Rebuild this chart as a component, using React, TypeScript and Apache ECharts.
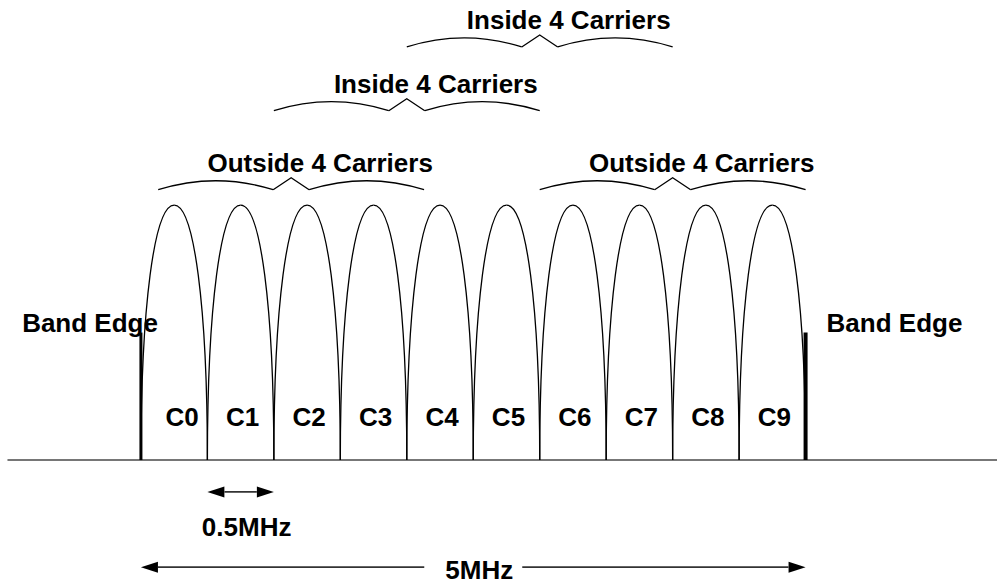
import React, { useEffect, useRef } from "react";
import * as echarts from "echarts";

// ---- Data (frequencies in MHz, levels relative to carrier peak = 1) ----
const carrierNames = ["C0", "C1", "C2", "C3", "C4", "C5", "C6", "C7", "C8", "C9"];
const carrierCenterMHz = [0.25, 0.75, 1.25, 1.75, 2.25, 2.75, 3.25, 3.75, 4.25, 4.75];
const carrierWidthMHz = 0.5;
const carrierPeak = 1;
const carrierLabelLevel = 0.17;

const bandEdgeMHz = [0, 5];
const bandEdgeLevel = 0.5;
const bandEdgeLabels = ["Band Edge", "Band Edge"];

const groupLabels = ["Outside 4 Carriers", "Inside 4 Carriers", "Inside 4 Carriers", "Outside 4 Carriers"];
const groupStartMHz = [0.13, 1.0, 2.0, 3.0];
const groupEndMHz = [2.13, 3.0, 4.0, 5.0];
const groupLevels = [1.06, 1.37, 1.62, 1.06];

const spanLabels = ["0.5MHz", "5MHz"];
const spanStartMHz = [0.5, 0];
const spanEndMHz = [1.0, 5];
const spanLevels = [-0.125, -0.42];

const FONT = "'Liberation Sans', Arial, sans-serif";
const textStyle = (text: string, align: string) => ({
  text,
  fill: "#000",
  fontSize: 26,
  fontWeight: "bold",
  fontFamily: FONT,
  align,
  verticalAlign: "middle",
  lineHeight: 22,
});

export default function App() {
  const ref = useRef<HTMLDivElement>(null);
  useEffect(() => {
    if (!ref.current) return;
    const chart = echarts.init(ref.current, null, { renderer: "svg" });
    const option: any = {
      animation: false,
      backgroundColor: "#fff",
      grid: { left: 8, right: 0, top: 0, bottom: 0, containLabel: false },
      xAxis: {
        type: "value",
        min: -1,
        max: 6.44,
        axisLine: { show: true, onZero: true, lineStyle: { color: "#4a4a4a", width: 1.5 } },
        axisTick: { show: false },
        axisLabel: { show: false },
        splitLine: { show: false },
      },
      yAxis: {
        type: "value",
        min: -0.49,
        max: 1.804,
        show: false,
        splitLine: { show: false },
      },
      series: [
        {
          type: "custom",
          name: "carriers",
          silent: true,
          encode: { x: 0, y: 1 },
          data: carrierCenterMHz.map((c) => [c, carrierPeak]),
          renderItem: (params: any, api: any) => {
            const c = api.value(0);
            const pk = api.value(1);
            const L = api.coord([c - carrierWidthMHz / 2, 0]);
            const T = api.coord([c, pk]);
            const R = api.coord([c + carrierWidthMHz / 2, 0]);
            const lab = api.coord([c, carrierLabelLevel]);
            const k = 0.6;
            const ls = { stroke: "#000", lineWidth: 1.3, fill: "none" };
            return {
              type: "group",
              children: [
                {
                  type: "bezierCurve",
                  shape: {
                    x1: L[0], y1: L[1],
                    cpx1: L[0], cpy1: L[1] - k * (L[1] - T[1]),
                    cpx2: T[0] - k * (T[0] - L[0]), cpy2: T[1],
                    x2: T[0], y2: T[1],
                  },
                  style: ls,
                },
                {
                  type: "bezierCurve",
                  shape: {
                    x1: T[0], y1: T[1],
                    cpx1: T[0] + k * (R[0] - T[0]), cpy1: T[1],
                    cpx2: R[0], cpy2: R[1] - k * (R[1] - T[1]),
                    x2: R[0], y2: R[1],
                  },
                  style: ls,
                },
                {
                  type: "text",
                  x: lab[0] + (params.dataIndex === 0 ? 8 : 2),
                  y: lab[1],
                  style: textStyle(carrierNames[params.dataIndex], "center"),
                },
              ],
            };
          },
        },
        {
          type: "custom",
          name: "bandEdges",
          silent: true,
          encode: { x: 0, y: 1 },
          data: bandEdgeMHz.map((f) => [f, bandEdgeLevel]),
          renderItem: (params: any, api: any) => {
            const f = api.value(0);
            const lv = api.value(1);
            const B = api.coord([f, 0]);
            const Tp = api.coord([f, lv]);
            const isLeft = params.dataIndex === 0;
            return {
              type: "group",
              children: [
                {
                  type: "line",
                  shape: { x1: B[0], y1: B[1], x2: Tp[0], y2: Tp[1] },
                  style: { stroke: "#000", lineWidth: isLeft ? 3 : 4 },
                },
                {
                  type: "text",
                  x: isLeft ? B[0] + 17 : B[0] + 21,
                  y: Tp[1] - 10,
                  style: textStyle(bandEdgeLabels[params.dataIndex], isLeft ? "right" : "left"),
                },
              ],
            };
          },
        },
        {
          type: "custom",
          name: "groups",
          silent: true,
          encode: { x: [0, 1], y: 2 },
          data: groupLabels.map((_, i) => [groupStartMHz[i], groupEndMHz[i], groupLevels[i]]),
          renderItem: (params: any, api: any) => {
            const s = api.coord([api.value(0), api.value(2)]);
            const e = api.coord([api.value(1), api.value(2)]);
            const y = s[1];
            const mid = (s[0] + e[0]) / 2;
            const th = 18;
            const tipRise = 12;
            const arcRise = 9;
            const ls = { stroke: "#000", lineWidth: 1.3, fill: "none" };
            return {
              type: "group",
              children: [
                {
                  type: "bezierCurve",
                  shape: {
                    x1: s[0], y1: y,
                    cpx1: (s[0] + mid - th) / 2, cpy1: y - 2 * arcRise,
                    x2: mid - th, y2: y,
                  },
                  style: ls,
                },
                {
                  type: "polyline",
                  shape: { points: [[mid - th, y], [mid, y - tipRise], [mid + th, y]] },
                  style: ls,
                },
                {
                  type: "bezierCurve",
                  shape: {
                    x1: mid + th, y1: y,
                    cpx1: (mid + th + e[0]) / 2, cpy1: y - 2 * arcRise,
                    x2: e[0], y2: y,
                  },
                  style: ls,
                },
                {
                  type: "text",
                  x: mid + 29,
                  y: y - 27,
                  style: textStyle(groupLabels[params.dataIndex], "center"),
                },
              ],
            };
          },
        },
        {
          type: "custom",
          name: "spans",
          silent: true,
          encode: { x: [0, 1], y: 2 },
          data: spanLabels.map((_, i) => [spanStartMHz[i], spanEndMHz[i], spanLevels[i]]),
          renderItem: (params: any, api: any) => {
            const a = api.coord([api.value(0), api.value(2)]);
            const b = api.coord([api.value(1), api.value(2)]);
            const y = a[1];
            const hl = 17;
            const hh = 5.5;
            const mid = (a[0] + b[0]) / 2;
            const inline = params.dataIndex === 1;
            const shaft = { stroke: "#333", lineWidth: 1.6 };
            const children: any[] = [
              {
                type: "polygon",
                shape: { points: [[a[0], y], [a[0] + hl, y - hh], [a[0] + hl, y + hh]] },
                style: { fill: "#000" },
              },
              {
                type: "polygon",
                shape: { points: [[b[0], y], [b[0] - hl, y - hh], [b[0] - hl, y + hh]] },
                style: { fill: "#000" },
              },
            ];
            if (inline) {
              children.push(
                { type: "line", shape: { x1: a[0] + hl, y1: y, x2: mid - 49, y2: y }, style: shaft },
                { type: "line", shape: { x1: mid + 49, y1: y, x2: b[0] - hl, y2: y }, style: shaft },
                { type: "text", x: mid + 6, y: y + 3, style: textStyle(spanLabels[params.dataIndex], "center") }
              );
            } else {
              children.push(
                { type: "line", shape: { x1: a[0] + hl, y1: y, x2: b[0] - hl, y2: y }, style: shaft },
                { type: "text", x: mid + 6, y: y + 35, style: textStyle(spanLabels[params.dataIndex], "center") }
              );
            }
            return { type: "group", children };
          },
        },
      ],
    };
    chart.setOption(option);
    return () => chart.dispose();
  }, []);
  return (
    <div
      ref={ref}
      style={{ position: "absolute", left: 0, top: 0, width: 997, height: 585 }}
    />
  );
}
